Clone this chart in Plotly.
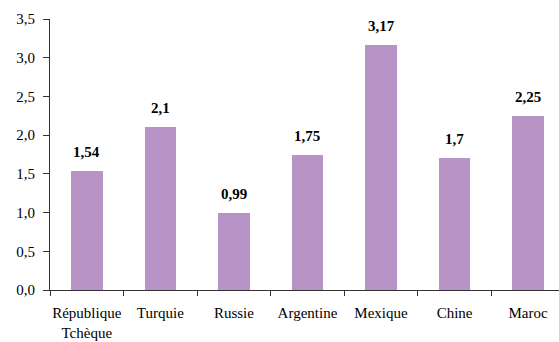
import plotly.graph_objects as go

categories = ["République<br>Tchèque", "Turquie", "Russie", "Argentine", "Mexique", "Chine", "Maroc"]
values = [1.54, 2.1, 0.99, 1.75, 3.17, 1.7, 2.25]
value_labels = ["1,54", "2,1", "0,99", "1,75", "3,17", "1,7", "2,25"]
y_tickvals = [0, 0.5, 1.0, 1.5, 2.0, 2.5, 3.0, 3.5]
y_ticktext = ["0,0", "0,5", "1,0", "1,5", "2,0", "2,5", "3,0", "3,5"]

font_family = "Liberation Serif, Times New Roman, serif"

fig = go.Figure()
fig.add_trace(go.Bar(
    x=list(range(len(categories))),
    y=values,
    width=0.43,
    marker=dict(color="#B894C6", line=dict(width=0)),
    hoverinfo="skip",
))

for i, (v, lab) in enumerate(zip(values, value_labels)):
    fig.add_annotation(
        x=i, y=v, text="<b>" + lab + "</b>", showarrow=False,
        yanchor="bottom", yshift=9,
        font=dict(family=font_family, size=15, color="black"),
    )

fig.update_layout(
    width=559, height=342,
    margin=dict(l=50, r=0, t=19, b=52),
    paper_bgcolor="white", plot_bgcolor="white",
    showlegend=False,
    font=dict(family=font_family, size=15, color="black"),
    bargap=0,
)
fig.update_xaxes(
    range=[-0.5, 6.42],
    tickmode="array",
    tickvals=list(range(len(categories))),
    ticktext=categories,
    showline=True, linecolor="#333333", linewidth=1,
    ticks="", showgrid=False, zeroline=False,
    tickfont=dict(family=font_family, size=15),
    ticklabelstandoff=9,
)
fig.update_xaxes(
    minor=dict(tickvals=[i - 0.5 for i in range(len(categories) + 1)],
               ticks="outside", ticklen=5, tickcolor="#333333", tickwidth=1, showgrid=False),
)
fig.update_yaxes(
    range=[0, 3.5],
    tickmode="array",
    tickvals=y_tickvals,
    ticktext=y_ticktext,
    showline=True, linecolor="#333333", linewidth=1,
    ticks="outside", ticklen=6, tickcolor="#333333",
    showgrid=False, zeroline=False,
    tickfont=dict(family=font_family, size=15),
    ticklabelstandoff=5,
)

fig.write_html("out.html", config={"displayModeBar": False},
               post_script="document.body.style.margin='0px';")
